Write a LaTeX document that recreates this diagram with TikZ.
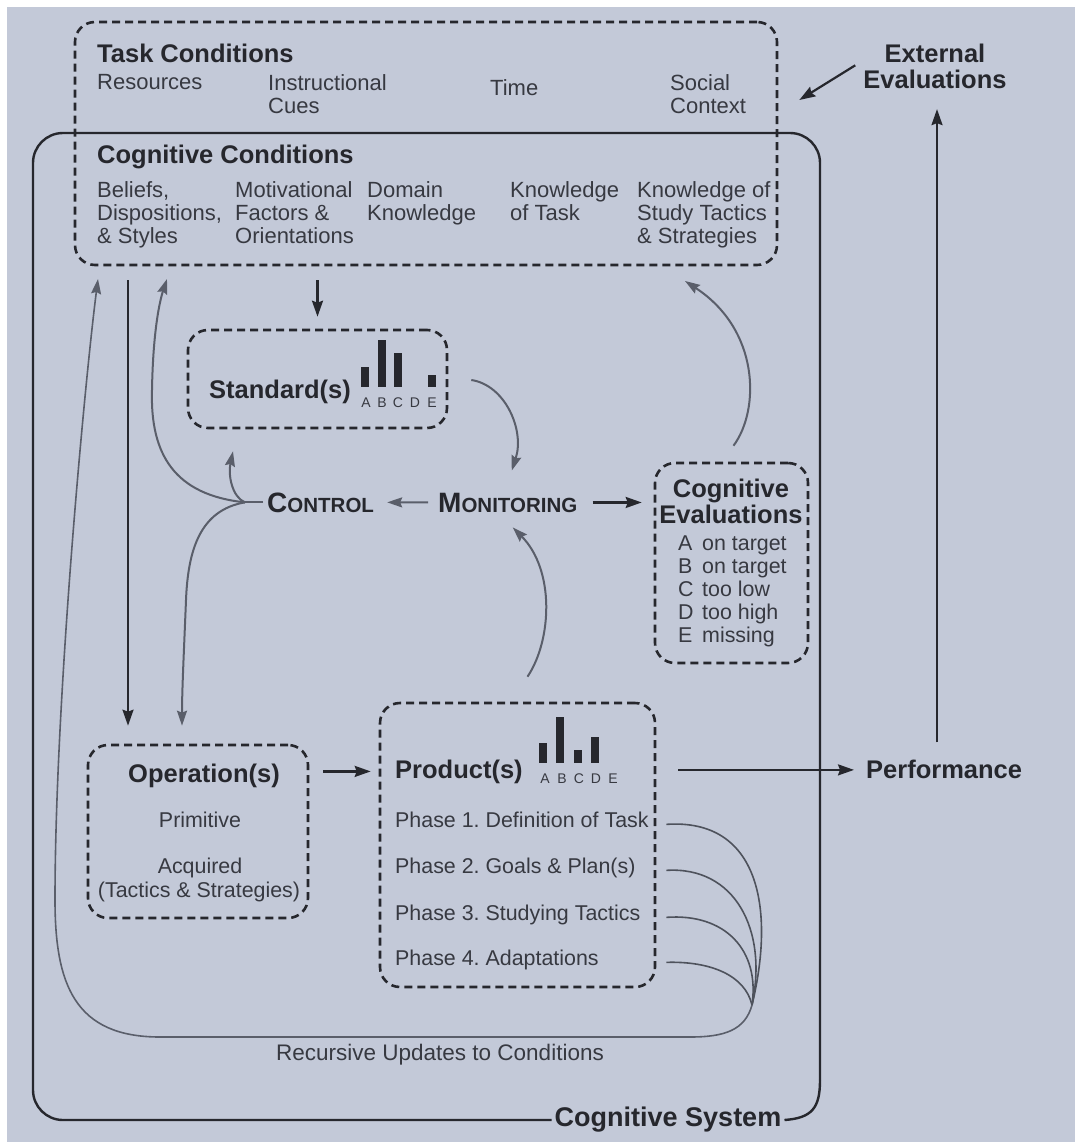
\documentclass[tikz,border=0pt]{standalone}
\usepackage{fontspec}
\setmainfont{Liberation Sans}
\usetikzlibrary{arrows.meta,calc}

\definecolor{bgc}{RGB}{195,201,216}
\definecolor{ink}{RGB}{38,39,45}
\definecolor{soft}{RGB}{55,57,65}
\definecolor{pen}{RGB}{90,94,106}
\definecolor{thin}{RGB}{78,82,92}

\newcommand\condfont{\fontsize{22}{23.3}\selectfont}
\newcommand\bodyfont{\fontsize{21.4}{23}\selectfont}
\newcommand\headfont{\bfseries\fontsize{25.5}{26.5}\selectfont}

\tikzset{
  cond/.style={inner sep=0pt, text=soft, font=\condfont, align=left, anchor=north west},
  lbl/.style={inner sep=0pt, text=soft, font=\bodyfont},
  hd/.style={inner sep=0pt, text=ink, font=\headfont},
  dbox/.style={draw=ink, line width=2.6pt, dash pattern=on 8pt off 5pt, rounded corners=20pt},
  sysl/.style={draw=ink, line width=2.4pt},
  blk/.style={draw=ink, line width=2.2pt, -{Stealth[length=16pt,width=11pt,inset=2pt]}},
  gry/.style={draw=pen, line width=2pt, -{Stealth[length=15pt,width=10pt,inset=2pt]}},
  thinln/.style={draw=thin, line width=1.6pt},
  bar/.style={fill=ink, draw=none},
  tiny/.style={inner sep=0pt, text=soft, font=\fontsize{14}{14}\selectfont, anchor=base},
}

\begin{document}
\frenchspacing
\begin{tikzpicture}[x=1pt,y=-1pt]
\useasboundingbox (0,0) rectangle (1075,1142);
\fill[white] (0,0) rectangle (1075,1142);
\fill[bgc] (7,7) rectangle (1075,1142);

% ---------- boxes ----------
\node[dbox, minimum width=702pt, minimum height=243pt] (task) at (426,143.5) {};
\node[dbox, minimum width=259pt, minimum height=98pt]  (std)  at (317.5,379) {};
\node[dbox, minimum width=153pt, minimum height=200pt] (eval) at (731.5,563) {};
\node[dbox, minimum width=220pt, minimum height=173pt] (op)   at (198,831.5) {};
\node[dbox, minimum width=275pt, minimum height=284pt] (prod) at (517.5,845) {};

% ---------- cognitive system frame ----------
\node[inner sep=3pt, text=ink, font=\bfseries\fontsize{27}{27}\selectfont] (sys) at (668,1120) {Cognitive System};
\draw[sysl, rounded corners=30pt] (sys.west) -- (33,1120) -- (33,133) -- (820,133) -- (820,1080);
\draw[sysl] (820,1080) .. controls (820,1108) and (812,1118) .. (sys.east);

% ---------- task conditions ----------
\node[hd, anchor=base west] (tasktitle) at (97,63) {Task Conditions};
\node[lbl, font=\condfont, anchor=base west] (res) at (97,90) {Resources};
\node[cond] (cues) at (268,74) {Instructional\\Cues};
\node[lbl, font=\condfont, anchor=base west] (time) at (490,96) {Time};
\node[cond] (social) at (670,74) {Social\\Context};

% ---------- cognitive conditions ----------
\node[hd, anchor=base west] (cogtitle) at (97,164) {Cognitive Conditions};
\node[cond] (beliefs) at (97,181) {Beliefs,\\Dispositions,\\\& Styles};
\node[cond] (motiv) at (235,181) {Motivational\\Factors \&\\Orientations};
\node[cond] (domain) at (367,181) {Domain\\Knowledge};
\node[cond] (ktask) at (510,181) {Knowledge\\of Task};
\node[cond] (ktact) at (637,181) {Knowledge of\\Study Tactics\\\& Strategies};

% ---------- external evaluations ----------
\node[hd, align=center, anchor=north] (ext) at (935,43.5) {External\\Evaluations};

% ---------- standards ----------
\node[hd, anchor=base west] (stdt) at (209,398) {Standard(s)};
\fill[bar] (361,367) rectangle (369,387);
\fill[bar] (378,340) rectangle (386,387);
\fill[bar] (394,353) rectangle (402,387);
\fill[bar] (428,375) rectangle (436,387);
\foreach \l/\xx in {A/366,B/382,C/398,D/415,E/432}
  \node[tiny] at (\xx,407) {\l};

% ---------- control / monitoring ----------
\node[inner sep=0pt, text=ink, anchor=base west] (ctrl) at (267,512)
  {\bfseries\fontsize{28}{28}\selectfont C\fontsize{20.5}{20.5}\selectfont ONTROL};
\node[inner sep=0pt, text=ink, anchor=base west] (mon) at (438,512)
  {\bfseries\fontsize{28}{28}\selectfont M\fontsize{20.5}{20.5}\selectfont ONITORING};

% ---------- cognitive evaluations ----------
\node[hd, align=center, anchor=north] (evalt) at (731,478.5) {Cognitive\\Evaluations};
\node[lbl, align=left, anchor=north west] (evali) at (678,536)
  {\makebox[24pt][l]{A}on target\\\makebox[24pt][l]{B}on target\\\makebox[24pt][l]{C}too low\\\makebox[24pt][l]{D}too high\\\makebox[24pt][l]{E}missing};

% ---------- operations ----------
\node[hd, anchor=base] (opt) at (204,782) {Operation(s)};
\node[lbl, anchor=base] (prim) at (200,827) {Primitive};
\node[lbl, anchor=base] (acq) at (200,873) {Acquired};
\node[lbl, anchor=base] (tact) at (199,897) {(Tactics \& Strategies)};

% ---------- products ----------
\node[hd, anchor=base west] (prodt) at (395,778) {Product(s)};
\fill[bar] (539,743) rectangle (547,763);
\fill[bar] (556,717) rectangle (564,763);
\fill[bar] (574,750) rectangle (582,763);
\fill[bar] (591,737) rectangle (599,763);
\foreach \l/\xx in {A/545,B/562,C/579,D/596,E/613}
  \node[tiny] at (\xx,783) {\l};
\node[lbl, anchor=base west] (p1) at (395,827) {Phase 1. Definition of Task};
\node[lbl, anchor=base west] (p2) at (395,873) {Phase 2. Goals \& Plan(s)};
\node[lbl, anchor=base west] (p3) at (395,920) {Phase 3. Studying Tactics};
\node[lbl, anchor=base west] (p4) at (395,965) {Phase 4. Adaptations};

% ---------- performance ----------
\node[hd, anchor=base west] (perf) at (866,778) {Performance};
\node[lbl, font=\fontsize{22.5}{23}\selectfont, anchor=base] (recur) at (440,1060) {Recursive Updates to Conditions};

% ---------- connection points ----------
\coordinate (ccA) at (98,279);
\coordinate (ccB) at (128,280);
\coordinate (ccC) at (167,279);
\coordinate (ccE) at (685,281);
\coordinate (fork) at ($(ctrl.west)+(-22,0)$);
\coordinate (merge) at (752,1005);

% ---------- connectors ----------
% conditions feed operations and standards
\draw[blk] (ccB) -- ([yshift=18pt]ccB |- op.north);
\draw[blk] ($(std.north |- task.south)+(0,14)$) -- ($(std.north)+(0,-12)$);

% control branches
\draw[draw=pen, line width=2pt] ([xshift=-4pt]ctrl.west) -- (fork);
\draw[gry] (fork) .. controls (175,495) and (150,455) .. (152,390) .. controls (153,330) and (160,300) .. (ccC);
\draw[gry] (fork) .. controls (232,497) and (228,475) .. ($(std.south)+(-84.5,22)$);
\draw[gry] (fork) .. controls (200,510) and (188,550) .. (186,600) .. controls (184,650) and (182,690) .. ($(op.north)+(-16,-18)$);

% monitoring
\draw[gry] ([xshift=-10pt]mon.west) -- ([xshift=13pt]ctrl.east);
\draw[blk] ([xshift=15pt]mon.east) -- ($(eval.west |- mon.west)+(-12,0)$);
\draw[gry] ($(std.east)+(23,1)$) .. controls (505,385) and (525,430) .. ($(mon.north)+(4,-22)$);
\draw[gry] ($(prod.north)+(10,-25)$) .. controls (552,640) and (555,570) .. ($(mon.south)+(5,15)$);
\draw[gry] ($(eval.north)+(2,-16)$) .. controls (760,410) and (760,330) .. (ccE);

% operations to products to performance
\draw[blk] ($(op.east |- opt.west)+(14,-4)$) -- ($(prod.west |- opt.west)+(-8,-4)$);
\draw[blk] ($(prod.east |- perf.west)+(22,1)$) -- ($(perf.west)+(-12,1)$);
\draw[blk] ($(perf.north -| ext.south)+(2,-17)$) -- ($(ext.south)+(2,20)$);
\draw[blk] ($(ext.west)+(-8,-1)$) -- ($(task.east)+(21,-43.5)$);

% recursive updates
\draw[thinln] ($(prod.east |- p1.mid)+(10,0)$) .. controls (760,818) and (775,910) .. (merge);
\draw[thinln] ($(prod.east |- p2.mid)+(10,0)$) .. controls (735,866) and (768,930) .. (merge);
\draw[thinln] ($(prod.east |- p3.mid)+(10,0)$) .. controls (725,913) and (760,950) .. (merge);
\draw[thinln] ($(prod.east |- p4.mid)+(10,0)$) .. controls (710,961) and (745,975) .. (merge);
\draw[thinln, -{Stealth[length=15pt,width=10pt,inset=2pt]}, draw=pen]
  (merge) .. controls (745,1030) and (725,1037) .. (690,1037) -- (160,1037)
  .. controls (75,1037) and (55,985) .. (55,900)
  .. controls (55,700) and (85,380) .. (ccA);
\end{tikzpicture}
\end{document}
